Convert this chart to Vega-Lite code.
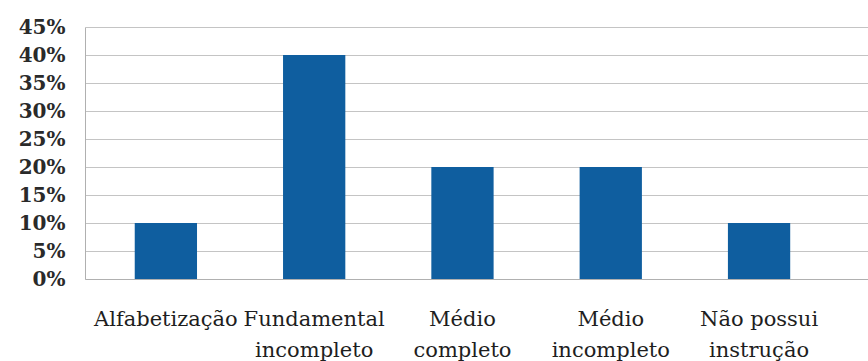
{
  "$schema": "https://vega.github.io/schema/vega-lite/v6.json",
  "width": 783,
  "height": 252,
  "autosize": {"type": "none"},
  "padding": {"left": 85, "top": 27, "right": 0, "bottom": 82},
  "background": "white",
  "data": {
    "values": [
      {"categoria": "Alfabetização", "valor": 0.10},
      {"categoria": "Fundamental|incompleto", "valor": 0.40},
      {"categoria": "Médio|completo", "valor": 0.20},
      {"categoria": "Médio|incompleto", "valor": 0.20},
      {"categoria": "Não possui|instrução", "valor": 0.10}
    ]
  },
  "config": {
    "view": {"stroke": null},
    "font": "DejaVu Serif"
  },
  "mark": {"type": "bar", "color": "#0f5e9f"},
  "encoding": {
    "x": {
      "field": "categoria",
      "type": "nominal",
      "sort": null,
      "scale": {"paddingInner": 0.58, "paddingOuter": 0.43, "align": 0.39},
      "axis": {
        "title": null,
        "labelAngle": 0,
        "labelExpr": "split(datum.label, '|')",
        "labelFont": "DejaVu Serif",
        "labelFontSize": 21,
        "labelColor": "#1e1e1e",
        "labelPadding": 29,
        "labelLineHeight": 31,
        "ticks": false,
        "domain": true,
        "domainColor": "#b0b0b0",
        "grid": false
      }
    },
    "y": {
      "field": "valor",
      "type": "quantitative",
      "scale": {"domain": [0, 0.45], "nice": false},
      "axis": {
        "title": null,
        "values": [0, 0.05, 0.1, 0.15, 0.2, 0.25, 0.3, 0.35, 0.4, 0.45],
        "format": ".0%",
        "labelFont": "DejaVu Serif",
        "labelFontSize": 20,
        "labelFontWeight": "bold",
        "labelColor": "#2a2a2a",
        "labelPadding": 20,
        "ticks": false,
        "domain": true,
        "domainColor": "#b0b0b0",
        "grid": true,
        "gridColor": "#c4c4c4",
        "gridWidth": 1
      }
    }
  }
}
